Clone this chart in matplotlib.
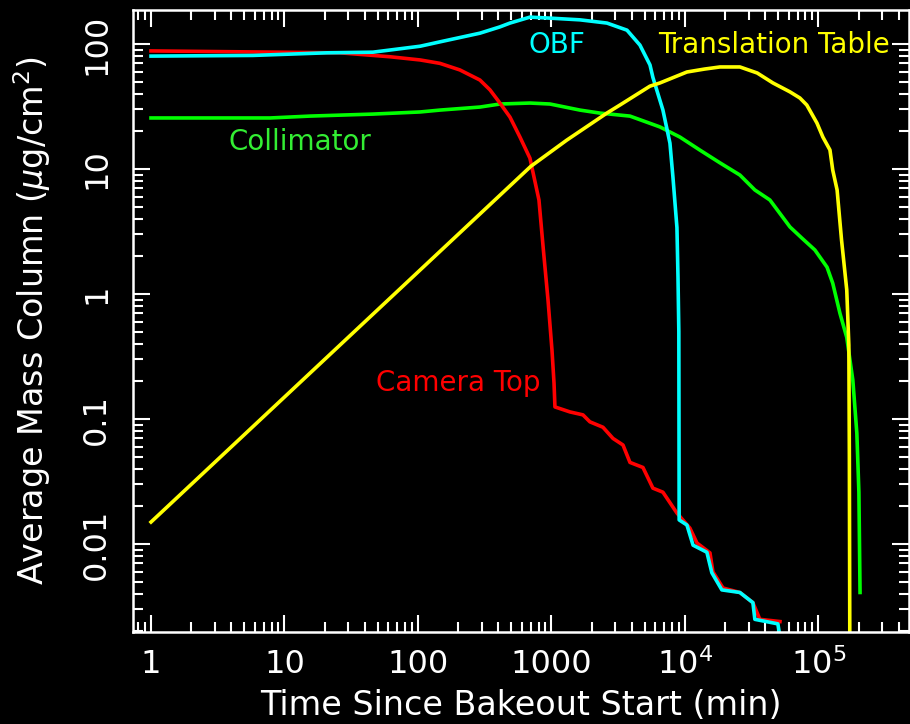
import matplotlib
matplotlib.use('Agg')
import matplotlib.pyplot as plt
from matplotlib.ticker import LogLocator, NullFormatter

# Camera Top (red)
camera_time = [1, 8.9, 26, 62, 104, 146, 206, 291, 346, 411, 489, 581, 690, 806,
               870, 942, 1009, 1045, 1062, 1376, 1722, 1941, 2431, 2890, 3435,
               3873, 4845, 5755, 6840, 8710, 10900, 12300, 15400, 16200, 19300,
               25800, 32300, 36400, 51500]
camera_mass = [88, 86, 85, 79, 74.5, 70, 62, 51.5, 43, 33.7, 26, 18, 12.2, 5.65,
               2.25, 0.9, 0.356, 0.194, 0.125, 0.114, 0.108, 0.095, 0.086, 0.070,
               0.062, 0.045, 0.041, 0.028, 0.026, 0.0177, 0.0134, 0.0102, 0.0085,
               0.0060, 0.00445, 0.0041, 0.0034, 0.0025, 0.0024]

# OBF (cyan)
obf_time = [1, 5.8, 20.8, 46, 104, 146, 291, 411, 489, 690, 975, 1634, 2605,
            3680, 4600, 5470, 5755, 6840, 7720, 8130, 8710, 8870, 9000, 9050,
            10350, 11500, 14600, 15900, 18900, 25800, 32300, 33400, 49700, 51500]
obf_mass = [80, 81, 85, 86, 96, 104, 122, 137, 147, 164, 161, 156, 147, 129, 98,
            68, 54, 29.6, 16.1, 8.6, 3.4, 1.37, 0.5, 0.0156, 0.0142, 0.0098,
            0.0086, 0.0059, 0.0043, 0.0041, 0.0034, 0.0025, 0.0023, 0.0018]

# Collimator (green)
coll_time = [1, 7.8, 15.5, 46, 104, 146, 291, 411, 690, 975, 1634, 2307, 3873,
             6500, 9180, 12900, 18300, 25800, 33400, 43300, 61200, 75200, 94100,
             116000, 128000, 145000, 163000, 181000, 194000, 201000, 205000]
coll_mass = [25.6, 25.6, 26.5, 27.5, 28.6, 29.6, 31.3, 33.1, 33.7, 33.1, 29.6, 28,
             26.5, 21.7, 18, 14.2, 11.2, 8.95, 6.8, 5.65, 3.44, 2.8, 2.25, 1.64,
             1.22, 0.70, 0.45, 0.205, 0.077, 0.026, 0.0041]

# Translation Table (yellow)
table_time = [1, 10, 100, 300, 700, 1300, 2600, 3260, 5470, 6500, 10350, 14000,
              18300, 25800, 34800, 45600, 61200, 72600, 81800, 97500, 108000,
              122000, 128000, 138000, 149000, 163000, 169000, 170500, 172000]
table_mass = [0.015, 0.15, 1.5, 4.5, 10.5, 17, 28, 32.5, 46, 48.8, 59.7, 63,
              65.5, 65.5, 58.6, 48.8, 41.4, 37, 32.5, 23.3, 18, 14.2, 9.8, 6.8,
              2.7, 1.08, 0.39, 0.05, 0.001]

x_ticks = [1, 10, 100, 1000, 1e4, 1e5]
x_tick_labels = ['1', '10', '100', '1000', r'$10^4$', r'$10^5$']
y_ticks = [0.01, 0.1, 1, 10, 100]
y_tick_labels = ['0.01', '0.1', '1', '10', '100']

fig = plt.figure(figsize=(9.1, 7.24), dpi=100, facecolor='black')
ax = fig.add_axes([133 / 910, 1 - 632 / 724, 776 / 910, 622 / 724])
ax.set_facecolor('black')
ax.set_xscale('log')
ax.set_yscale('log')

lw = 2.6
ax.plot(coll_time, coll_mass, color='#00ff00', lw=lw)
ax.plot(camera_time, camera_mass, color='#ff0000', lw=lw)
ax.plot(obf_time, obf_mass, color='#00ffff', lw=lw)
ax.plot(table_time, table_mass, color='#ffff00', lw=lw)

ax.set_xlim(0.733, 4.77e5)
ax.set_ylim(0.00198, 187)

# Ticks on all sides, pointing inward
ax.set_xticks(x_ticks, x_tick_labels)
ax.set_yticks(y_ticks, y_tick_labels, rotation=90, va='center')
ax.xaxis.set_minor_locator(LogLocator(base=10, subs=range(2, 10), numticks=30))
ax.yaxis.set_minor_locator(LogLocator(base=10, subs=range(2, 10), numticks=30))
ax.xaxis.set_minor_formatter(NullFormatter())
ax.yaxis.set_minor_formatter(NullFormatter())
ax.tick_params(which='both', direction='in', top=True, right=True,
               colors='white', width=1.5)
ax.tick_params(which='major', length=12, labelsize=23)
ax.tick_params(which='minor', length=7)
ax.tick_params(axis='x', which='major', pad=12)
ax.tick_params(axis='y', which='major', pad=15)
for s in ax.spines.values():
    s.set_color('white')
    s.set_linewidth(1.8)

ax.set_xlabel('Time Since Bakeout Start (min)', color='white', fontsize=24,
              va='top')
ax.xaxis.set_label_coords(0.5, -0.092)
ax.set_ylabel(r'Average Mass Column ($\mu$g/cm$^2$)', color='white',
              fontsize=24)
ax.yaxis.set_label_coords(-0.103, 0.5)

# Curve names
ax.text(1100, 84.7, 'OBF', color='#00ffff', fontsize=20, ha='center', va='baseline')
ax.text(46400, 84.7, 'Translation Table', color='#ffff00', fontsize=20,
        ha='center', va='baseline')
ax.text(13.1, 14.2, 'Collimator', color='#33ee33', fontsize=20, ha='center',
        va='baseline')
ax.text(199, 0.1675, 'Camera Top', color='#ff0000', fontsize=20, ha='center',
        va='baseline')

fig.savefig('out.png', dpi=100, facecolor='black')
